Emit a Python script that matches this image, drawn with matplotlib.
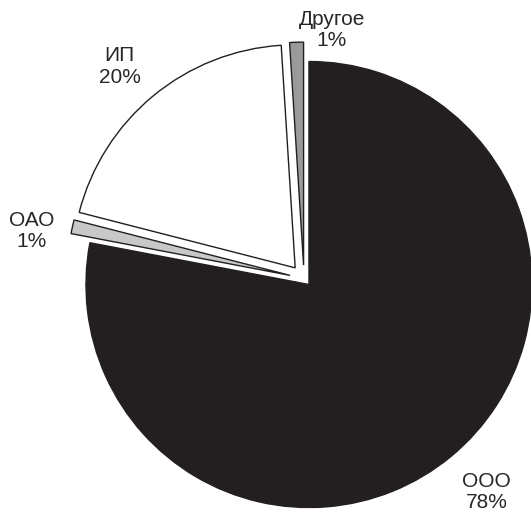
import numpy as np
import matplotlib.pyplot as plt

plt.rcParams['font.family'] = ['Liberation Sans', 'DejaVu Sans']

labels = ['ООО', 'ОАО', 'ИП', 'Другое']
shares = [78, 1, 20, 1]
colors = ['#231f20', '#c8c8c8', '#ffffff', '#9a9a9a']
explode = [0.035, 0.064, 0.062, 0.06]
# label radius (from pie centre) and angular nudge (deg) per slice
label_r = [1.26, 1.24, 1.26, 1.12]
label_nudge = [1.0, 2.7, 1.4, -8.2]

fig = plt.figure(figsize=(5.31, 5.17), dpi=100)
ax = fig.add_axes([0, 0, 1, 1])

wedges, _ = ax.pie(shares, colors=colors, explode=explode, startangle=90,
                   counterclock=False,
                   wedgeprops=dict(edgecolor='#231f20', linewidth=1.0))

for w, lab, s, r, n in zip(wedges, labels, shares, label_r, label_nudge):
    ang = np.deg2rad((w.theta1 + w.theta2) / 2 + n)
    ax.text(r * np.cos(ang), r * np.sin(ang), f'{lab}\n{s}%',
            ha='center', va='center', fontsize=15, color='#2a2627',
            linespacing=1.15)

R = 223
ax.set_xlim(-304 / R, 227 / R)
ax.set_ylim(-238.5 / R, 278.5 / R)
ax.set_aspect('auto')
ax.axis('off')

fig.savefig('out.png', dpi=100)
